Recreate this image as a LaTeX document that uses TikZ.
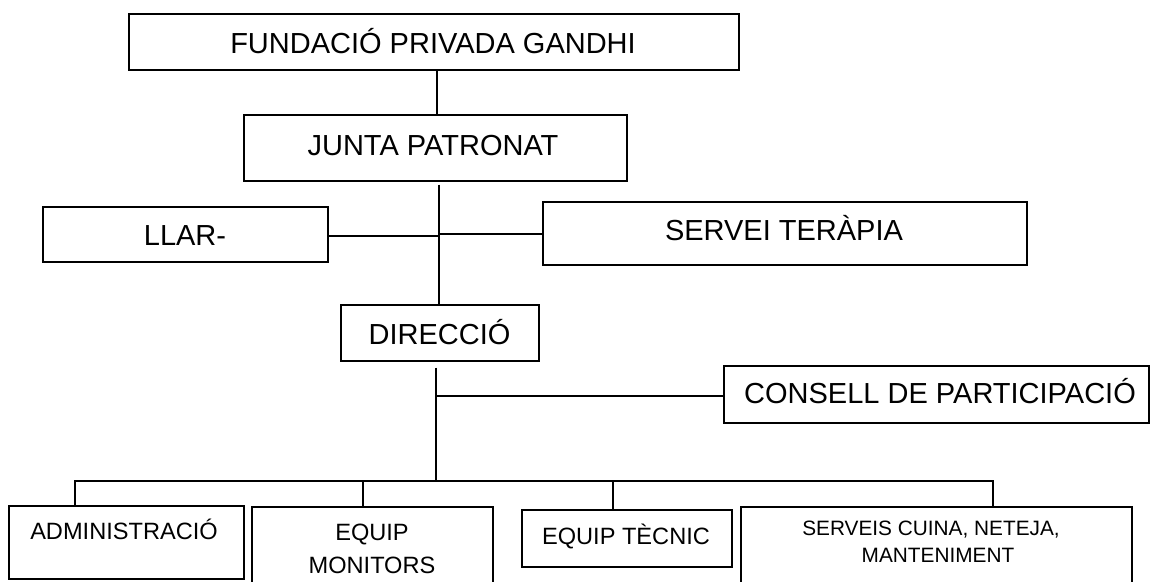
\documentclass[tikz,border=0pt]{standalone}
\usepackage{fontspec}
\setmainfont{Liberation Sans}
\usetikzlibrary{calc}
\tikzset{
  orgbox/.style={draw=black, line width=1.2pt, rectangle, inner sep=0pt, fill=white},
  conn/.style={draw=black, line width=1.5pt},
  bigtxt/.style={inner sep=0pt, anchor=base, font=\fontsize{29}{34}\selectfont},
  midtxt/.style={inner sep=0pt, anchor=base, font=\fontsize{23.6}{28}\selectfont},
  smalltxt/.style={inner sep=0pt, anchor=base, font=\fontsize{20.8}{25}\selectfont}
}
\begin{document}
\begin{tikzpicture}[x=1pt,y=-1pt]
\useasboundingbox (0,0) rectangle (1151,581);
\fill[white] (0,0) rectangle (1151,581);
\clip (0,0) rectangle (1151,581);

% boxes
\node[orgbox, minimum width=610pt, minimum height=56pt] (fund) at (434,42) {};
\node[orgbox, minimum width=383pt, minimum height=66pt] (junta) at (435.5,148) {};
\node[orgbox, minimum width=285pt, minimum height=55pt] (llar) at (185.5,234.5) {};
\node[orgbox, minimum width=484pt, minimum height=63pt] (serv) at (785,233.5) {};
\node[orgbox, minimum width=198pt, minimum height=56pt] (dir) at (440,333) {};
\node[orgbox, minimum width=425pt, minimum height=57pt] (cons) at (936.5,394.5) {};
\node[orgbox, minimum width=235pt, minimum height=73pt] (admin) at (126.5,542.5) {};
\node[orgbox, minimum width=241pt, minimum height=93pt] (mon) at (372.5,553.5) {};
\node[orgbox, minimum width=210pt, minimum height=57pt] (tec) at (627,538.5) {};
\node[orgbox, minimum width=391pt, minimum height=93pt] (serveis) at (936.5,553.5) {};

% texts
\node[bigtxt] (fundT) at (433,53) {FUNDACIÓ PRIVADA GANDHI};
\node[bigtxt] (juntaT) at (433,155) {JUNTA PATRONAT};
\node[bigtxt] (llarT) at (185,245) {LLAR-};
\node[bigtxt] (servT) at (784,240) {SERVEI TERÀPIA};
\node[bigtxt] (dirT) at (439.5,344) {DIRECCIÓ};
\node[bigtxt] (consT) at (940,403) {CONSELL DE PARTICIPACIÓ};
\node[midtxt] (adminT) at (124,539) {ADMINISTRACIÓ};
\node[midtxt] (monTa) at (372,540) {EQUIP};
\node[midtxt] (monTb) at (372,573) {MONITORS};
\node[midtxt] (tecT) at (626,544) {EQUIP TÈCNIC};
\node[smalltxt] (servesTa) at (931,535) {SERVEIS CUINA, NETEJA,};
\node[smalltxt] (servesTb) at (938,562) {MANTENIMENT};

% connector coordinates
\coordinate (c1) at (437,0);
\coordinate (c2) at (439,0);
\coordinate (c3) at (436,0);
\coordinate (h1) at (0,236);
\coordinate (h2) at (0,234);
\coordinate (h3) at (0,396);
\coordinate (busL) at (75,481);
\coordinate (busR) at (993,481);
\coordinate (d2) at (363,0);
\coordinate (d3) at (613,0);

% connectors
\draw[conn] (c1 |- fund.south) -- (c1 |- junta.north);
\draw[conn] ($(c2 |- junta.south)+(0,3)$) -- (c2 |- dir.north);
\draw[conn] (llar.east |- h1) -- (c2 |- h1);
\draw[conn] (c2 |- h2) -- (serv.west |- h2);
\draw[conn] ($(c3 |- dir.south)+(0,6)$) -- (c3 |- busL);
\draw[conn] (c3 |- h3) -- (cons.west |- h3);
\draw[conn] (busL |- admin.north) -- (busL) -- (busR) -- (busR |- serveis.north);
\draw[conn] (d2 |- busL) -- (d2 |- mon.north);
\draw[conn] (d3 |- busL) -- (d3 |- tec.north);
\end{tikzpicture}
\end{document}
